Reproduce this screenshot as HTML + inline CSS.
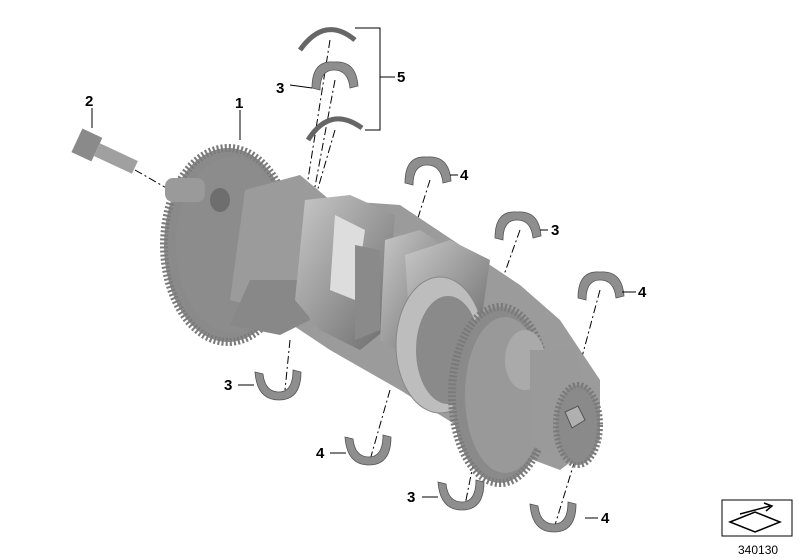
<!DOCTYPE html>
<html><head><meta charset="utf-8"><style>
html,body{margin:0;padding:0;background:#fff;}
svg{display:block}
text{font-family:"Liberation Sans",sans-serif;font-weight:bold;font-size:15px;fill:#000}
</style></head><body>
<svg width="800" height="560" viewBox="0 0 800 560" xmlns="http://www.w3.org/2000/svg">
<defs>
<linearGradient id="g1" x1="0" y1="0" x2="1" y2="1">
<stop offset="0" stop-color="#c8c8c8"/><stop offset="0.5" stop-color="#9a9a9a"/><stop offset="1" stop-color="#6a6a6a"/></linearGradient>
<linearGradient id="g2" x1="0" y1="0" x2="0" y2="1">
<stop offset="0" stop-color="#cfcfcf"/><stop offset="1" stop-color="#7a7a7a"/></linearGradient>
<g id="shell"><path d="M0,28 Q0,0 22,2 Q44,0 46,26 L38,28 Q36,10 22,10 Q8,10 8,30 Z" fill="#8e8e8e" stroke="#555" stroke-width="0.8"/></g>
<g id="shellD"><path d="M0,2 Q2,30 24,30 Q46,30 46,2 L38,0 Q38,22 24,22 Q10,22 8,4 Z" fill="#8e8e8e" stroke="#555" stroke-width="0.8"/></g>
</defs>
<!-- dashed leaders -->
<g stroke="#000" stroke-width="1" stroke-dasharray="8,3,2,3" fill="none">
<line x1="330" y1="40" x2="300" y2="230"/>
<line x1="335" y1="80" x2="305" y2="240"/>
<line x1="335" y1="130" x2="300" y2="250"/>
<line x1="430" y1="180" x2="395" y2="290"/>
<line x1="520" y1="230" x2="495" y2="300"/>
<line x1="600" y1="290" x2="565" y2="420"/>
<line x1="290" y1="340" x2="285" y2="390"/>
<line x1="390" y1="390" x2="370" y2="460"/>
<line x1="480" y1="430" x2="465" y2="505"/>
<line x1="575" y1="460" x2="555" y2="525"/>
<line x1="135" y1="170" x2="170" y2="190"/>
</g>
<!-- big gear -->
<ellipse cx="228" cy="245" rx="64" ry="97" fill="#8a8a8a" stroke="#7a7a7a" stroke-width="8" stroke-dasharray="2,2"/>
<ellipse cx="232" cy="245" rx="56" ry="88" fill="#8c8c8c"/>
<rect x="165" y="178" width="40" height="24" rx="8" fill="#9a9a9a"/>
<ellipse cx="220" cy="200" rx="10" ry="12" fill="#6e6e6e"/>
<!-- crank body -->
<path d="M245,190 L300,175 L330,200 L400,205 L460,245 L520,285 L560,320 L600,380 L600,440 L560,470 L480,440 L400,390 L330,350 L270,310 L230,300 Z" fill="#9b9b9b"/>
<path d="M250,280 L300,280 L310,320 L280,335 L230,325 Z" fill="#888"/>
<path d="M305,200 L350,195 L395,215 L385,330 L360,350 L320,330 L295,300 Z" fill="url(#g1)"/>
<path d="M335,215 L365,230 L355,300 L330,290 Z" fill="#ddd"/>
<path d="M355,245 L380,250 L380,330 L355,340 Z" fill="#8a8a8a"/>
<path d="M385,240 L420,230 L450,250 L445,330 L415,360 L380,340 Z" fill="url(#g1)"/>
<path d="M405,255 L450,240 L490,260 L480,330 L440,350 L410,330 Z" fill="url(#g1)"/>
<!-- flange ring -->
<ellipse cx="440" cy="345" rx="44" ry="68" fill="#bdbdbd" stroke="#888"/>
<ellipse cx="448" cy="350" rx="32" ry="54" fill="#8a8a8a"/>
<!-- second gear -->
<ellipse cx="500" cy="395" rx="48" ry="88" fill="#8a8a8a" stroke="#7a7a7a" stroke-width="8" stroke-dasharray="2,2"/>
<ellipse cx="505" cy="395" rx="40" ry="78" fill="#999"/>
<ellipse cx="525" cy="360" rx="20" ry="30" fill="#aaa"/>
<path d="M530,350 L575,350 L590,420 L565,460 L530,445 Z" fill="#9a9a9a"/>
<!-- small gear -->
<ellipse cx="578" cy="425" rx="22" ry="40" fill="#8a8a8a" stroke="#7a7a7a" stroke-width="6" stroke-dasharray="2,2"/>
<polygon points="565,412 578,406 585,420 572,428" fill="#b0b0b0" stroke="#555"/>
<!-- bolt -->
<g transform="rotate(25 100 150)">
<rect x="75" y="138" width="22" height="26" fill="#8a8a8a"/>
<rect x="97" y="144" width="42" height="14" fill="#a0a0a0"/>
</g>
<!-- top arcs -->
<path d="M300,50 Q325,15 355,40" fill="none" stroke="#666" stroke-width="5"/>
<path d="M308,140 Q330,105 362,128" fill="none" stroke="#666" stroke-width="5"/>
<use href="#shell" x="312" y="60"/>
<use href="#shell" x="405" y="155"/>
<use href="#shell" x="495" y="210"/>
<use href="#shell" x="578" y="270"/>
<use href="#shellD" x="255" y="370"/>
<use href="#shellD" x="345" y="435"/>
<use href="#shellD" x="438" y="480"/>
<use href="#shellD" x="530" y="502"/>
<!-- bracket for 5 -->
<path d="M355,28 L380,28 L380,130 L365,130 M380,77 L395,77" fill="none" stroke="#000"/>
<!-- label leaders -->
<g stroke="#000" fill="none">
<line x1="240" y1="110" x2="240" y2="140"/>
<line x1="92" y1="108" x2="92" y2="128"/>
<line x1="290" y1="85" x2="312" y2="88"/>
<line x1="450" y1="175" x2="458" y2="175"/>
<line x1="540" y1="230" x2="548" y2="230"/>
<line x1="622" y1="292" x2="636" y2="292"/>
<line x1="238" y1="385" x2="254" y2="385"/>
<line x1="330" y1="453" x2="346" y2="453"/>
<line x1="422" y1="497" x2="438" y2="497"/>
<line x1="585" y1="518" x2="598" y2="518"/>
</g>
<text x="235" y="108">1</text>
<text x="85" y="106">2</text>
<text x="276" y="93">3</text>
<text x="397" y="82">5</text>
<text x="460" y="180">4</text>
<text x="551" y="235">3</text>
<text x="638" y="297">4</text>
<text x="224" y="390">3</text>
<text x="316" y="458">4</text>
<text x="407" y="502">3</text>
<text x="601" y="523">4</text>
<!-- icon -->
<rect x="722" y="500" width="70" height="36" fill="#fff" stroke="#000"/>
<path d="M730,522 L755,512 L780,522 L755,532 Z" fill="none" stroke="#000" stroke-width="1.5"/>
<path d="M740,514 L770,506 M764,503 L772,506 L766,511" fill="none" stroke="#000" stroke-width="1.5"/>
<text x="738" y="554" style="font-weight:normal;font-size:12px">340130</text>
</svg>
</body></html>
